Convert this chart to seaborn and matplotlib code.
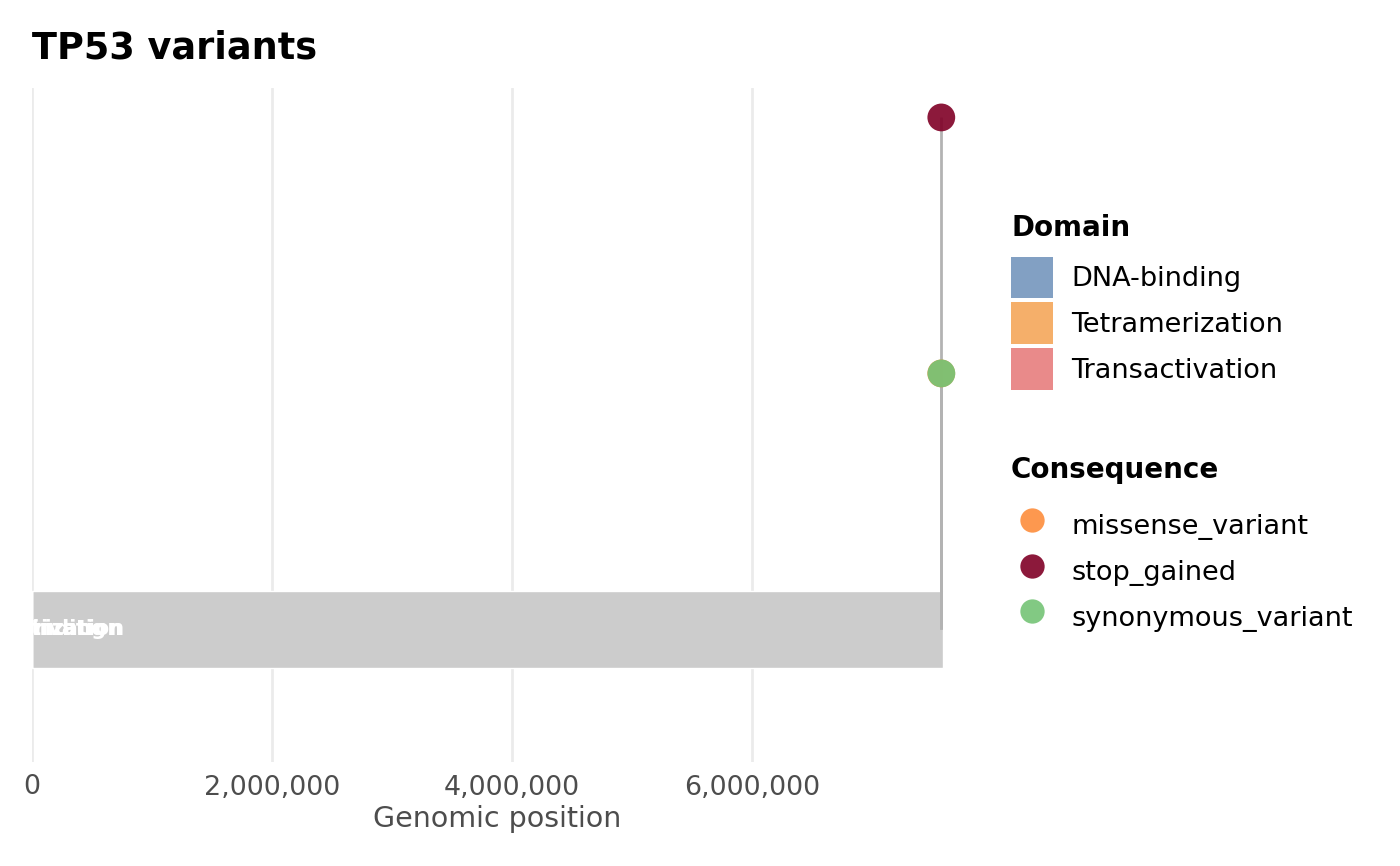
import numpy as np
import pandas as pd
import matplotlib
matplotlib.use("Agg")
import matplotlib.pyplot as plt
import matplotlib.ticker as mticker
from matplotlib.patches import Patch
from matplotlib.lines import Line2D
import seaborn as sns

#### data ####
gene_start = 0
gene_end = 7590868

domain_names = ["Transactivation", "DNA-binding", "Tetramerization"]
domain_start = [1, 94, 323]
domain_end = [61, 292, 355]
domain_colors = {"DNA-binding": "#82A0C3",
                 "Tetramerization": "#F5AF6A",
                 "Transactivation": "#E98A8A"}

var_pos = [7577120, 7577538, 7578190]
var_height = [1, 2, 1]
var_consequence = ["missense_variant", "stop_gained", "synonymous_variant"]
cons_colors = {"missense_variant": "#FD8D3C",
               "stop_gained": "#800026",
               "synonymous_variant": "#74C476"}

df = pd.DataFrame({"pos": var_pos, "height": var_height,
                   "consequence": var_consequence})
dom = pd.DataFrame({"name": domain_names, "start": domain_start,
                    "end": domain_end})
dom["mid"] = (dom.start + dom.end) / 2

#### plot ####
sns.set_theme(style="white")
plt.rcParams["font.family"] = ["DejaVu Sans"]
plt.rcParams["text.color"] = "black"

fig = plt.figure(figsize=(14, 8.66), dpi=100)
ax = fig.add_axes([32 / 1400, 1 - 762 / 866, (962 - 32) / 1400, (762 - 88) / 866])

# backbone
ax.barh(0, gene_end - gene_start, left=gene_start, height=0.3,
        color="#CCCCCC", zorder=2)
# domains (tiny in genomic coordinates)
for _, r in dom.iterrows():
    ax.barh(0, r.end - r.start, left=r.start, height=0.3,
            color=domain_colors[r["name"]], zorder=3)
    ax.text(r.mid, 0, r["name"], color="white", fontsize=15,
            fontweight="bold", ha="center", va="center", zorder=4,
            clip_on=True)

# stems
ax.vlines(df.pos, 0, df.height, color="#B3B3B3", linewidth=2, zorder=3)
sns.scatterplot(data=df, x="pos", y="height", hue="consequence",
                palette=cons_colors, s=400, alpha=0.9, edgecolor="none",
                legend=False, ax=ax, zorder=5)

ax.set_xlim(gene_start, 7750000)
ax.set_ylim(-0.518, 2.115)
ax.set_xticks([0, 2000000, 4000000, 6000000])
ax.xaxis.set_major_formatter(mticker.FuncFormatter(lambda v, p: "{:,.0f}".format(v)))
ax.set_yticks([])
ax.grid(axis="x", color="#EBEBEB", linewidth=2)
ax.set_axisbelow(True)
for s in ax.spines.values():
    s.set_visible(False)
ax.tick_params(axis="x", length=0, pad=9, labelsize=19.4, labelcolor="#4D4D4D")
ax.set_xlabel("Genomic position", fontsize=20.5, color="#4D4D4D", labelpad=3)
ax.set_ylabel("")
ax.set_title("TP53 variants", loc="left", fontsize=26.4, fontweight="bold",
             color="black", pad=21)

# legends
leg_kw = dict(loc="upper left", frameon=False, fontsize=19.5, alignment="left",
              handlelength=1.55, handleheight=2.0, labelspacing=0.15,
              handletextpad=0.67, borderpad=0, borderaxespad=0,
              title_fontproperties={"weight": "bold", "size": 20})

dom_labels = ["DNA-binding", "Tetramerization", "Transactivation"]
dom_handles = [Patch(facecolor=domain_colors[k], edgecolor="none")
               for k in dom_labels]
leg1 = fig.legend(dom_handles, dom_labels, title="Domain",
                  bbox_to_anchor=(1011 / 1400, 1 - 214 / 866), **leg_kw)

cons_labels = ["missense_variant", "stop_gained", "synonymous_variant"]
cons_handles = [Line2D([], [], marker="o", linestyle="none",
                       markerfacecolor=cons_colors[k], markeredgecolor="none",
                       markersize=17.5, alpha=0.9)
                for k in cons_labels]
leg2 = fig.legend(cons_handles, cons_labels, title="Consequence",
                  bbox_to_anchor=(1011 / 1400, 1 - 456 / 866), **leg_kw)

leg1._legend_box.sep = 10.5
leg2._legend_box.sep = 15

fig.savefig("out.png", dpi=100)
